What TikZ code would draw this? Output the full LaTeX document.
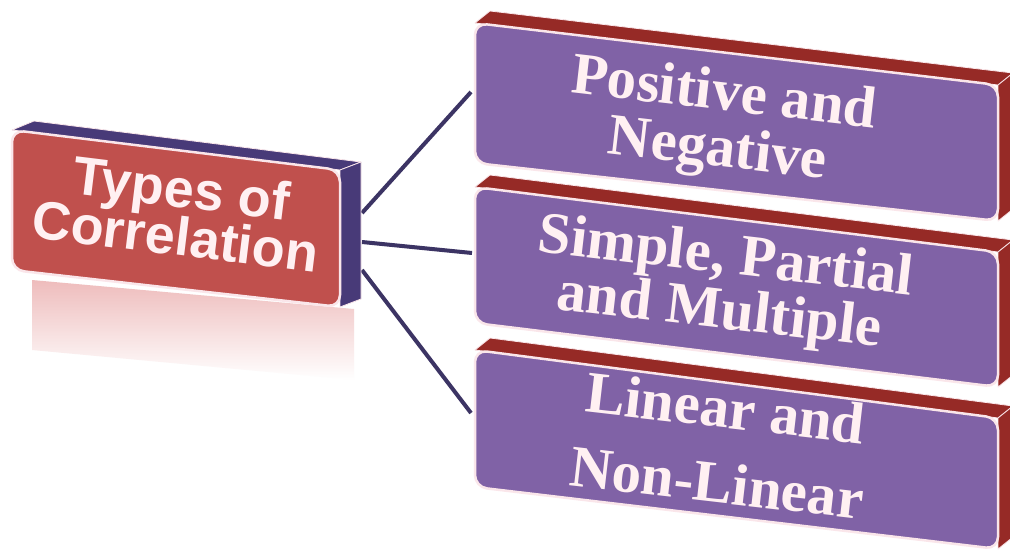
\documentclass[tikz,border=0pt]{standalone}
\usepackage{fontspec}
\setmainfont{Liberation Serif}
\newfontfamily\headsans{Liberation Sans}
\usetikzlibrary{calc}
\definecolor{redfront}{RGB}{192,80,77}
\definecolor{redside}{RGB}{150,42,38}
\definecolor{purfront}{RGB}{128,98,166}
\definecolor{purside}{RGB}{72,58,120}
\definecolor{linkcol}{RGB}{60,52,100}
\definecolor{txtcol}{RGB}{255,240,242}
\definecolor{bevel}{RGB}{250,230,234}
\definecolor{refl}{RGB}{238,188,188}
\newcommand\topstrut{\rule{0pt}{0.75em}}
\newcommand\botstrut{\rule[-0.25em]{0pt}{0pt}}
\tikzset{
  frontface/.style={draw=bevel, line width=2.5pt, rounded corners=12pt},
  sideface/.style={draw=bevel, line width=0.8pt, line join=round},
  link/.style={draw=linkcol, line width=4pt},
  headtext/.style={text=txtcol, align=center, inner sep=0pt, anchor=center, rotate=-7,
    font=\headsans\bfseries\fontsize{54}{48}\selectfont},
  itemtext/.style={text=txtcol, align=center, inner sep=0pt, anchor=center, rotate=-6.6},
}
\begin{document}
\setlength{\lineskiplimit}{-100pt}
\begin{tikzpicture}[x=1pt,y=-1pt]
\useasboundingbox (0,0) rectangle (1010,550);
\clip (0,0) rectangle (1010,550);
\fill[white] (0,0) rectangle (1010,550);

% connectors
\coordinate (c1s) at (362,213); \coordinate (c1e) at (471,92);
\coordinate (c2s) at (362,242); \coordinate (c2e) at (472,253);
\coordinate (c3s) at (362,270); \coordinate (c3e) at (471,413);
\draw[link] (c1s) -- (c1e);
\draw[link] (c2s) -- (c2e);
\draw[link] (c3s) -- (c3e);

% reflection of the red box
\shade[top color=refl, bottom color=white] (32,280) -- (354,309) -- (354,380) -- (32,350) -- cycle;

% red box
\coordinate (rtl) at (12,130); \coordinate (rtr) at (340,170);
\coordinate (rbr) at (340,307); \coordinate (rbl) at (12,270);
\filldraw[sideface, fill=purside] (rtl) -- ($(rtl)+(22,-9)$) -- ($(rtr)+(21,-8)$) -- (rtr) -- cycle;
\filldraw[sideface, fill=purside] (rtr) -- ($(rtr)+(21,-8)$) -- ($(rbr)+(21,-8)$) -- (rbr) -- cycle;
\filldraw[frontface, fill=redfront] (rtl) -- (rtr) -- (rbr) -- (rbl) -- cycle;
\node[headtext] (head) at (178,217.6) {\topstrut Types of\\Correlation\botstrut};

% purple box 1
\coordinate (atl) at (475,23); \coordinate (atr) at (998,85);
\coordinate (abr) at (998,221); \coordinate (abl) at (475,163);
\filldraw[sideface, fill=redside] (atl) -- ($(atl)+(15,-12)$) -- ($(atr)+(15,-12)$) -- (atr) -- cycle;
\filldraw[sideface, fill=redside] (atr) -- ($(atr)+(15,-12)$) -- ($(abr)+(15,-12)$) -- (abr) -- cycle;
\filldraw[frontface, fill=purfront] (atl) -- (atr) -- (abr) -- (abl) -- cycle;
\node[itemtext, font=\bfseries\fontsize{59}{56}\selectfont] (pos)
  at (720.7,123.4) {\topstrut Positive and\\Negative\botstrut};

% purple box 2
\coordinate (btl) at (475,187); \coordinate (btr) at (998,252);
\coordinate (bbr) at (998,387); \coordinate (bbl) at (475,323);
\filldraw[sideface, fill=redside] (btl) -- ($(btl)+(15,-12)$) -- ($(btr)+(15,-12)$) -- (btr) -- cycle;
\filldraw[sideface, fill=redside] (btr) -- ($(btr)+(15,-12)$) -- ($(bbr)+(15,-12)$) -- (bbr) -- cycle;
\filldraw[frontface, fill=purfront] (btl) -- (btr) -- (bbr) -- (bbl) -- cycle;
\node[itemtext, font=\bfseries\fontsize{59}{55}\selectfont] (sim)
  at (722.2,285.9) {\topstrut Simple, Partial\\and Multiple\botstrut};

% purple box 3
\coordinate (ctl) at (475,350); \coordinate (ctr) at (998,418);
\coordinate (cbr) at (998,549); \coordinate (cbl) at (475,487);
\filldraw[sideface, fill=redside] (ctl) -- ($(ctl)+(15,-12)$) -- ($(ctr)+(15,-12)$) -- (ctr) -- cycle;
\filldraw[sideface, fill=redside] (ctr) -- ($(ctr)+(15,-12)$) -- ($(cbr)+(15,-12)$) -- (cbr) -- cycle;
\filldraw[frontface, fill=purfront] (ctl) -- (ctr) -- (cbr) -- (cbl) -- cycle;
\node[itemtext, font=\bfseries\fontsize{59}{75}\selectfont] (lin)
  at (720.7,450.4) {\topstrut Linear and\\Non-Linear\botstrut};
\end{tikzpicture}
\end{document}
